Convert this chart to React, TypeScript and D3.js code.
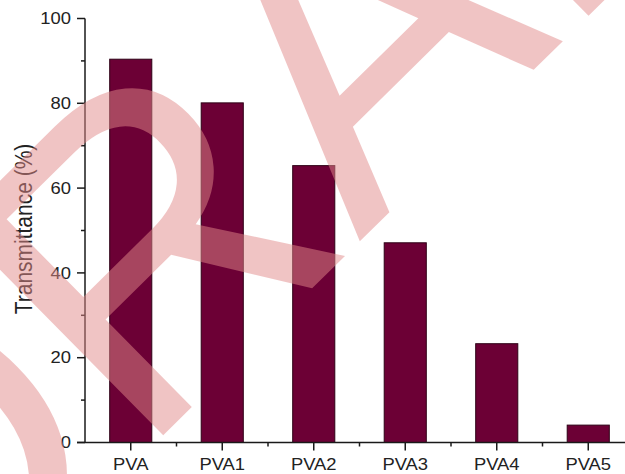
import React from "react";
import * as d3 from "d3";

const categories = ["PVA", "PVA1", "PVA2", "PVA3", "PVA4", "PVA5"];
const transmittance = [90.4, 80.1, 65.3, 47.1, 23.3, 4.1];
const majorTicks = [0, 20, 40, 60, 80, 100];
const minorTicks = [10, 30, 50, 70, 90];
const yTitle = "Transmittance (%)";
const watermark = "DRAFT";

const W = 625;
const H = 474;
const SX = 1.15; // horizontal stretch of the original image

export default function App() {
  const x = d3
    .scaleBand<string>()
    .domain(categories)
    .range([85, 634])
    .paddingInner(0.54)
    .paddingOuter(0.27);
  const y = d3.scaleLinear().domain([0, 100]).range([442.5, 18.5]);
  const step = x.step();
  const bw = x.bandwidth();
  const axisColor = "#1a1a1a";
  const font = "'Liberation Sans', Arial, sans-serif";

  return (
    <svg
      width={W}
      height={H}
      style={{ position: "absolute", left: 0, top: 0, background: "#fff" }}
      fontFamily={font}
    >
      <rect x={0} y={0} width={W} height={H} fill="#fff" />
      {/* bars */}
      {categories.map((c, i) => (
        <rect
          key={c}
          x={x(c)!}
          y={y(transmittance[i])}
          width={bw}
          height={y(0) - y(transmittance[i])}
          fill="#6c0035"
          stroke="#2e0016"
          strokeWidth={1}
        />
      ))}
      {/* y axis */}
      <line x1={85} x2={85} y1={y(100)} y2={y(0)} stroke={axisColor} strokeWidth={1.5} />
      {majorTicks.map((t) => (
        <g key={"mt" + t}>
          <line x1={77} x2={85} y1={y(t)} y2={y(t)} stroke={axisColor} strokeWidth={1.5} />
          <text
            transform={`translate(71,${y(t)}) scale(${SX},1)`}
            textAnchor="end"
            dy="0.36em"
            fontSize={16}
            fill="#222"
          >
            {t}
          </text>
        </g>
      ))}
      {minorTicks.map((t) => (
        <line key={"mn" + t} x1={81} x2={85} y1={y(t)} y2={y(t)} stroke={axisColor} strokeWidth={1.5} />
      ))}
      {/* x axis */}
      <line x1={77} x2={W} y1={y(0)} y2={y(0)} stroke={axisColor} strokeWidth={1.5} />
      {categories.map((c) => {
        const cx = x(c)! + bw / 2;
        return (
          <g key={"xt" + c}>
            <line x1={cx} x2={cx} y1={y(0)} y2={y(0) + 8} stroke={axisColor} strokeWidth={1.5} />
            <line
              x1={cx + step / 2}
              x2={cx + step / 2}
              y1={y(0)}
              y2={y(0) + 4}
              stroke={axisColor}
              strokeWidth={1.5}
            />
            <text
              transform={`translate(${cx},470) scale(${SX},1)`}
              textAnchor="middle"
              fontSize={16}
              fill="#222"
            >
              {c}
            </text>
          </g>
        );
      })}
      {/* y title */}
      <text
        transform={`translate(32,229) scale(${SX},1) rotate(-90)`}
        textAnchor="middle"
        fontSize={21}
        fill="#222"
      >
        {yTitle}
      </text>
      {/* watermark */}
      <text
        transform="translate(-83,678) rotate(-44.6)"
        fontSize={430}
        fill="rgb(227,138,138)"
        opacity={0.5}
      >
        {watermark}
      </text>
    </svg>
  );
}
